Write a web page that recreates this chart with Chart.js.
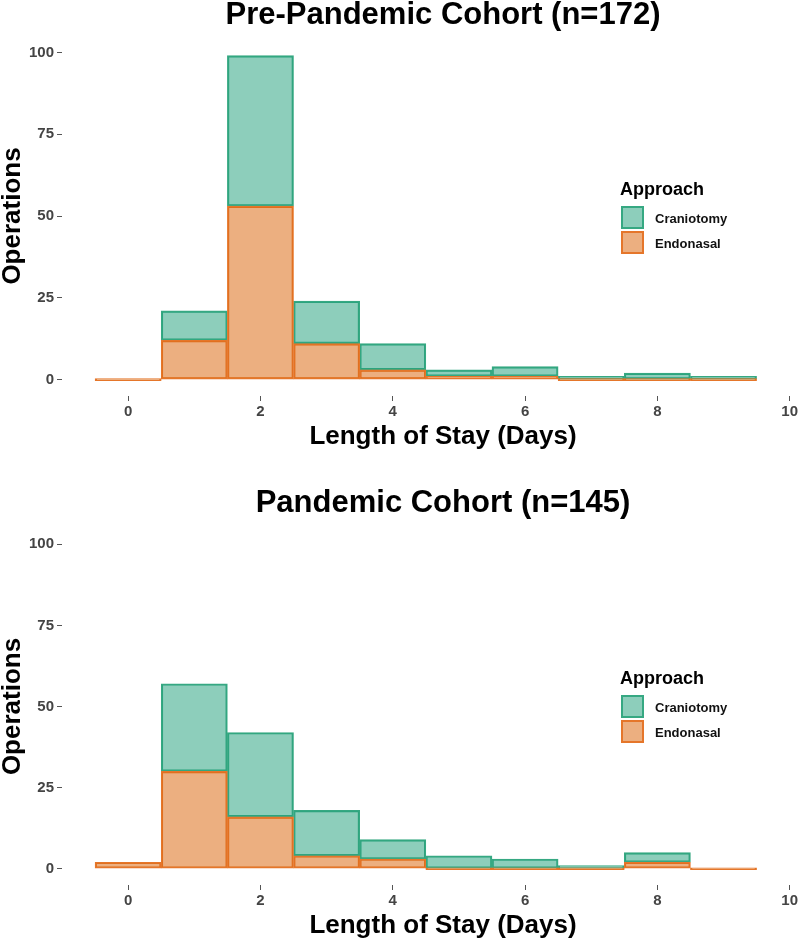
<!DOCTYPE html>
<html>
<head>
<meta charset="utf-8">
<script src="https://cdn.jsdelivr.net/npm/chart.js@4.4.1/dist/chart.umd.min.js"></script>
<style>
  html, body { margin: 0; padding: 0; background: #fff; }
  .panel { position: relative; width: 800px; }
</style>
</head>
<body>
<div class="panel" style="height:470px"><canvas id="pre"></canvas></div>
<div class="panel" style="height:469px"><canvas id="pan"></canvas></div>
<script>
// length of stay bins (days) and counts per approach
var days = [0, 1, 2, 3, 4, 5, 6, 7, 8, 9];
var preEndonasal  = [0, 12, 53, 11, 3, 1, 1, 0, 0, 0];
var preCraniotomy = [0, 9, 46, 13, 8, 2, 3, 1, 2, 1];
var panEndonasal  = [2, 30, 16, 4, 3, 0, 0, 0, 2, 0];
var panCraniotomy = [0, 27, 26, 14, 6, 4, 3, 1, 3, 0];
var xTicks = [0, 2, 4, 6, 8, 10];
var yTicks = [0, 25, 50, 75, 100];
var legendTitle = "Approach";
var legendNames = ["Craniotomy", "Endonasal"];
var xTitle = "Length of Stay (Days)";
var yTitle = "Operations";

var FONT = '"Liberation Sans", Arial, Helvetica, sans-serif';
var greenFill = 'rgba(27,158,119,0.5)', greenLine = '#36a882';
var orangeFill = 'rgba(217,95,2,0.5)', orangeLine = '#e5762a';

var textPlugin = {
    id: 'texts',
    afterDraw: function (chart, args, opts) {
        var ctx = chart.ctx;
        ctx.save();
        ctx.fillStyle = '#000';
        ctx.textAlign = 'center';
        ctx.textBaseline = 'alphabetic';
        ctx.font = 'bold 31px ' + FONT;
        ctx.fillText(opts.title, 443, opts.titleY);
        ctx.font = 'bold 26px ' + FONT;
        ctx.fillText(xTitle, 443, opts.xTitleY);

        // legend
        var top = opts.legendTop;
        ctx.textAlign = 'left';
        ctx.font = 'bold 18px ' + FONT;
        ctx.fillText(legendTitle, 620, top - 11);
        var fills = [greenFill, orangeFill];
        var lines = [greenLine, orangeLine];
        ctx.font = 'bold 13px ' + FONT;
        legendNames.forEach(function (name, i) {
            var y = top + i * 25;
            ctx.fillStyle = fills[i];
            ctx.fillRect(621, y, 23, 23);
            ctx.strokeStyle = lines[i];
            ctx.lineWidth = 2;
            ctx.strokeRect(622, y + 1, 21, 21);
            ctx.fillStyle = '#111';
            ctx.fillText(name, 655, y + 17);
        });
        ctx.restore();
    }
};

function makeChart(id, endo, crani, opts) {
    var tickFont = {family: FONT, size: 15, weight: 'bold'};
    new Chart(document.getElementById(id), {
        type: 'bar',
        data: {
            datasets: [{
                label: legendNames[1],
                data: days.map(function (d, i) { return {x: d, y: endo[i]}; }),
                backgroundColor: orangeFill,
                borderColor: orangeLine,
                borderWidth: 1.5,
                borderSkipped: false,
                minBarLength: 2,
                barPercentage: 1,
                categoryPercentage: 1
            }, {
                label: legendNames[0],
                data: days.map(function (d, i) { return {x: d, y: crani[i]}; }),
                backgroundColor: greenFill,
                borderColor: greenLine,
                borderWidth: 1.5,
                borderSkipped: false,
                barPercentage: 1,
                categoryPercentage: 1
            }]
        },
        options: {
            responsive: true,
            maintainAspectRatio: false,
            animation: false,
            layout: {padding: {top: opts.padTop, bottom: 0, left: 0, right: 0}},
            plugins: {
                legend: {display: false},
                tooltip: {enabled: false},
                texts: opts
            },
            scales: {
                x: {
                    type: 'linear',
                    stacked: true,
                    offset: false,
                    min: -1,
                    max: 10,
                    afterBuildTicks: function (s) {
                        s.ticks = xTicks.map(function (v) { return {value: v}; });
                    },
                    afterFit: function (s) { s.height = opts.xHeight; },
                    grid: {offset: false, drawOnChartArea: false, drawTicks: true, tickLength: 5, color: '#555'},
                    border: {display: false},
                    ticks: {padding: 2, maxRotation: 0, autoSkip: false, color: '#444', font: tickFont}
                },
                y: {
                    stacked: true,
                    min: -5,
                    max: 105,
                    afterBuildTicks: function (s) {
                        s.ticks = yTicks.map(function (v) { return {value: v}; });
                    },
                    afterFit: function (s) { s.width = 62; },
                    grid: {drawOnChartArea: false, drawTicks: true, tickLength: 5, color: '#555'},
                    border: {display: false},
                    ticks: {padding: 3, color: '#444', font: tickFont},
                    title: {
                        display: true,
                        text: yTitle,
                        color: '#000',
                        padding: 0,
                        font: {family: FONT, size: 26, weight: 'bold', lineHeight: 1}
                    }
                }
            }
        },
        plugins: [textPlugin]
    });
}

makeChart('pre', preEndonasal, preCraniotomy, {
    title: 'Pre-Pandemic Cohort (n=172)', titleY: 24, xTitleY: 444,
    legendTop: 206, padTop: 36, xHeight: 74
});
makeChart('pan', panEndonasal, panCraniotomy, {
    title: 'Pandemic Cohort (n=145)', titleY: 42, xTitleY: 463,
    legendTop: 225, padTop: 58, xHeight: 54
});
</script>
</body>
</html>
